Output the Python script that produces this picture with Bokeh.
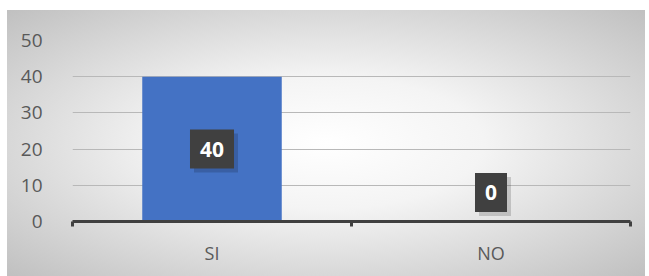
from bokeh.plotting import figure
from bokeh.models import FixedTicker, ColumnDataSource
from bokeh.core.properties import value
from bokeh.embed import file_html
from bokeh.resources import INLINE

categories = ["SI", "NO"]
values = [40, 0]
y_ticks = [0, 10, 20, 30, 40, 50]

xs = [i + 0.5 for i in range(len(categories))]
label_y = [v / 2 for v in values]
label_off = [0 if v > 0 else -29 for v in values]
shadow_off = [o + 4 for o in label_off]
texts = [str(v) for v in values]

src = ColumnDataSource(dict(x=xs, top=values, ly=label_y, off=label_off, soff=shadow_off, t=texts))

p = figure(width=645, height=276, output_backend="svg", toolbar_location=None,
           x_range=(0, len(categories)), y_range=(0, 50),
           min_border_left=72, min_border_right=15, min_border_top=40, min_border_bottom=55)
p.background_fill_color = None
p.border_fill_color = None
p.outline_line_color = None
p.styles = {"background-image": "radial-gradient(ellipse farthest-corner at 50% 50%, #ffffff 0%, #f4f4f4 35%, #c0c0c0 100%)",
            "background-position": "7px 10px",
            "background-size": "638px 266px",
            "background-repeat": "no-repeat"}

p.vbar(x="x", top="top", width=0.5, bottom=0, source=src, fill_color="#4472C4", line_color=None)

pad = dict(left=10, right=10, top=12, bottom=12)
# shadow boxes
p.text(x="x", y="ly", text="t", source=src, y_offset="soff", x_offset=4,
       text_color=None, text_font=value("Open Sans"), text_font_style="bold",
       text_font_size="21px", text_align="center", text_baseline="middle",
       background_fill_color="#000000", background_fill_alpha=0.16,
       padding=pad, text_alpha=0)
p.text(x="x", y="ly", text="t", source=src, y_offset="off",
       text_color="#ffffff", text_font=value("Open Sans"), text_font_style="bold",
       text_font_size="21px", text_align="center", text_baseline="middle",
       background_fill_color="#404040", padding=pad)

p.xaxis.ticker = FixedTicker(ticks=xs, minor_ticks=list(range(len(categories) + 1)))
p.xaxis.major_label_overrides = {x: c for x, c in zip(xs, categories)}
p.xaxis.major_tick_line_color = None
p.xaxis.minor_tick_line_color = "#404040"
p.xaxis.minor_tick_line_width = 3
p.xaxis.minor_tick_out = 5
p.xaxis.minor_tick_in = 0
p.xaxis.axis_line_color = "#404040"
p.xaxis.axis_line_width = 3
p.xaxis.major_label_standoff = 13
p.xaxis.major_label_text_font = "Open Sans"
p.xaxis.major_label_text_font_size = "18px"
p.xaxis.major_label_text_color = "#595959"

p.yaxis.ticker = FixedTicker(ticks=y_ticks)
p.yaxis.axis_line_color = None
p.yaxis.major_tick_line_color = None
p.yaxis.minor_tick_line_color = None
p.yaxis.major_label_standoff = 24
p.yaxis.major_label_text_font = "Open Sans"
p.yaxis.major_label_text_font_size = "19px"
p.yaxis.major_label_text_color = "#595959"

p.xgrid.grid_line_color = None
p.ygrid.ticker = FixedTicker(ticks=y_ticks)
p.ygrid.grid_line_color = "#b8b8b8"

open("out.html", "w").write(file_html(p, INLINE))
